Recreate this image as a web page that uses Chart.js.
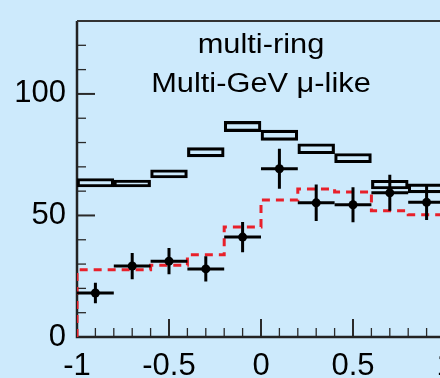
<!DOCTYPE html>
<html>
<head>
<meta charset="utf-8">
<script src="https://cdn.jsdelivr.net/npm/chart.js@4"></script>
<style>
  html, body { margin: 0; padding: 0; background: #cdeafc; overflow: hidden; }
  #wrap { width: 440px; height: 378px; overflow: hidden; }
</style>
</head>
<body>
<div id="wrap"><canvas id="zenithChart" width="480" height="378"></canvas></div>
<script>
// cos(zenith) bins, 0.2 wide
const binCenters = [-0.9, -0.7, -0.5, -0.3, -0.1, 0.1, 0.3, 0.5, 0.7, 0.9];
const binHalf = 0.1;

// observed events with statistical errors
const dataEvents = [18.1, 29.2, 31.2, 28.0, 41.1, 69.2, 55.2, 54.4, 59.3, 55.4];
const dataErrors = [4.2, 5.4, 5.4, 5.2, 6.2, 8.2, 7.5, 7.2, 7.4, 7.3];

// MC without oscillation (box = uncertainty band)
const mcLow  = [61.7, 61.7, 65.4, 74.1, 84.5, 80.9, 75.4, 71.7, 60.9, 59.3];
const mcHigh = [65.2, 64.6, 68.8, 77.9, 88.7, 85.1, 79.5, 75.5, 64.5, 63.0];

// best-fit oscillation prediction
const mcOsc = [27.7, 27.7, 29.5, 33.8, 45.3, 56.4, 60.9, 59.7, 51.9, 50.3];

const xTicks = [-1, -0.5, 0, 0.5, 1];
const yTicks = [0, 50, 100];
const titleLines = ["multi-ring", "Multi-GeV \u03bc-like"];

// step outline for the oscillated histogram
const oscStep = [{ x: binCenters[0] - binHalf, y: 0 }];
binCenters.forEach(function (c, i) {
    oscStep.push({ x: c - binHalf, y: mcOsc[i] });
    oscStep.push({ x: c + binHalf, y: mcOsc[i] });
});

const frame = {
    id: 'frame',
    beforeDatasetsDraw(chart) {
        const { ctx, chartArea: a, scales: { x, y } } = chart;
        ctx.save();
        ctx.strokeStyle = '#2a2a2a';
        // inward ticks on the left axis
        for (let v = 10; v < y.max; v += 10) {
            const major = v % 50 === 0;
            const py = y.getPixelForValue(v);
            ctx.lineWidth = major ? 2 : 1.3;
            ctx.beginPath();
            ctx.moveTo(a.left, py);
            ctx.lineTo(a.left + (major ? 18 : 9), py);
            ctx.stroke();
        }
        // inward ticks on the bottom axis
        for (let i = -9; i <= 10; i++) {
            const major = i % 5 === 0;
            const px = x.getPixelForValue(i / 10);
            ctx.lineWidth = major ? 2 : 1.3;
            ctx.beginPath();
            ctx.moveTo(px, a.bottom);
            ctx.lineTo(px, a.bottom - (major ? 18 : 9));
            ctx.stroke();
        }
        ctx.lineWidth = 2.5;
        ctx.strokeStyle = '#222';
        ctx.beginPath();
        ctx.moveTo(a.left, a.top);
        ctx.lineTo(a.left, a.bottom);
        ctx.lineTo(a.right, a.bottom);
        ctx.stroke();
        ctx.lineWidth = 2;
        ctx.strokeStyle = '#333';
        ctx.beginPath();
        ctx.moveTo(a.left, a.top);
        ctx.lineTo(a.right, a.top);
        ctx.lineTo(a.right, a.bottom);
        ctx.stroke();
        ctx.restore();
    }
};

const errorBars = {
    id: 'errorBars',
    afterDatasetsDraw(chart) {
        const { ctx, scales: { x, y } } = chart;
        ctx.save();
        ctx.strokeStyle = '#000';
        ctx.lineWidth = 3;
        binCenters.forEach(function (c, i) {
            const px = x.getPixelForValue(c);
            const py = y.getPixelForValue(dataEvents[i]);
            ctx.beginPath();
            ctx.moveTo(x.getPixelForValue(c - binHalf), py);
            ctx.lineTo(x.getPixelForValue(c + binHalf), py);
            ctx.moveTo(px, y.getPixelForValue(dataEvents[i] + dataErrors[i]));
            ctx.lineTo(px, y.getPixelForValue(dataEvents[i] - dataErrors[i]));
            ctx.stroke();
        });
        ctx.restore();
    }
};

const sampleLabel = {
    id: 'sampleLabel',
    afterDraw(chart) {
        const { ctx, scales: { x } } = chart;
        ctx.save();
        ctx.fillStyle = '#000';
        ctx.font = '27px "Liberation Sans", Arial, sans-serif';
        ctx.textAlign = 'center';
        ctx.translate(x.getPixelForValue(0), 0);
        ctx.scale(1.14, 1);
        ctx.fillText(titleLines[0], 0, 53);
        ctx.fillText(titleLines[1], 0, 92);
        ctx.restore();
    }
};

const tickFont = { family: '"Liberation Sans", Arial, sans-serif', size: 31 };

new Chart(document.getElementById('zenithChart'), {
    type: 'bar',
    data: {
        datasets: [
            {
                type: 'line',
                label: 'Data',
                data: binCenters.map((c, i) => ({ x: c, y: dataEvents[i] })),
                showLine: false,
                pointRadius: 4.5,
                pointBackgroundColor: '#000',
                pointBorderWidth: 0,
                order: 0
            },
            {
                type: 'line',
                label: 'Oscillated MC',
                data: oscStep,
                borderColor: '#e8202a',
                borderWidth: 3,
                borderDash: [8, 6],
                pointRadius: 0,
                tension: 0,
                fill: false,
                order: 1
            },
            {
                type: 'bar',
                label: 'Null oscillation MC',
                data: binCenters.map((c, i) => ({ x: c, y: [mcLow[i], mcHigh[i]] })),
                backgroundColor: 'rgba(0,0,0,0)',
                borderColor: '#000',
                borderWidth: 2.5,
                borderSkipped: false,
                barPercentage: 1,
                categoryPercentage: 1,
                order: 2
            }
        ]
    },
    options: {
        responsive: false,
        animation: false,
        devicePixelRatio: 1,
        layout: { padding: { top: 21, right: 35, left: 0, bottom: 0 } },
        plugins: { legend: { display: false }, tooltip: { enabled: false } },
        scales: {
            x: {
                type: 'linear',
                min: -1,
                max: 1,
                offset: false,
                grid: { display: false, drawTicks: false },
                border: { display: false },
                afterBuildTicks: function (s) { s.ticks = xTicks.map(v => ({ value: v })); },
                afterFit: function (s) { s.height = 41; },
                ticks: {
                    color: '#000',
                    font: tickFont,
                    padding: 11,
                    maxRotation: 0,
                    autoSkip: false,
                    callback: v => String(v)
                }
            },
            y: {
                min: 0,
                max: 130,
                grid: { display: false, drawTicks: false },
                border: { display: false },
                afterBuildTicks: function (s) { s.ticks = yTicks.map(v => ({ value: v })); },
                afterFit: function (s) { s.width = 77; },
                ticks: {
                    color: '#000',
                    font: Object.assign({ lineHeight: 0.6 }, tickFont),
                    padding: 11,
                    autoSkip: false,
                    callback: v => String(v)
                }
            }
        }
    },
    plugins: [frame, errorBars, sampleLabel]
});
</script>
</body>
</html>
